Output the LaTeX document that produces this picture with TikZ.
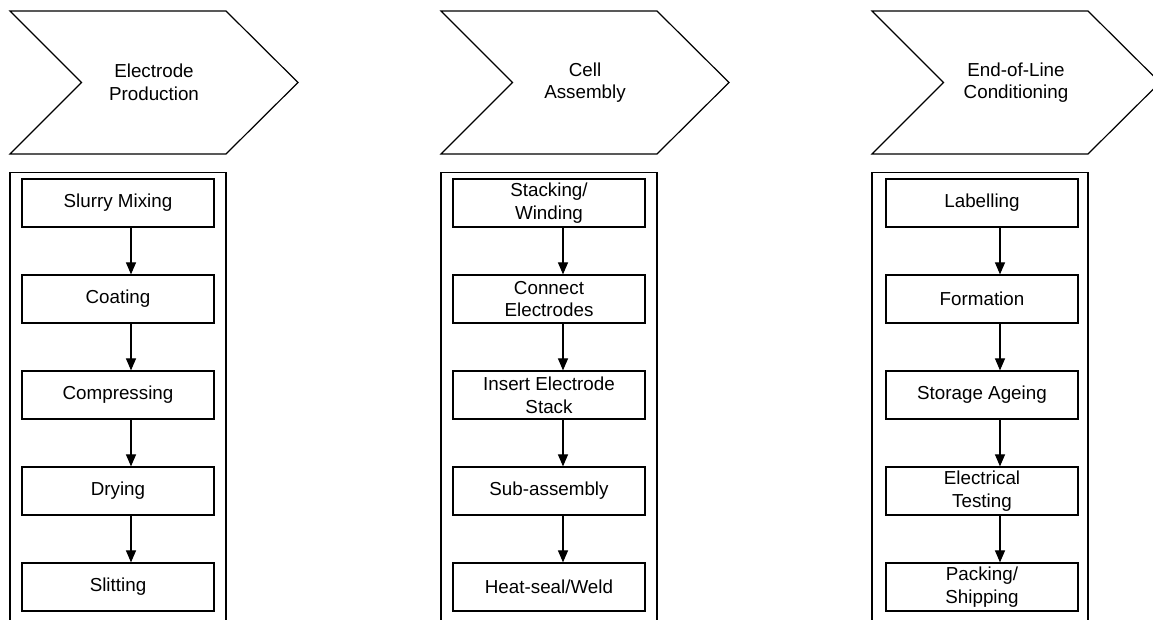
\documentclass[tikz,border=0pt]{standalone}
\usepackage{fontspec}
\setmainfont{Liberation Sans}
\usetikzlibrary{arrows.meta}

\begin{document}
\begin{tikzpicture}[x=0.5pt,y=-0.5pt,font=\fontsize{9.4}{11.3}\selectfont,line width=0.6pt]
        \tikzset{stepbox/.style = {shape=rectangle,draw,minimum width=96pt,minimum height=24pt,align=center,inner sep=1pt}};
        \tikzset{phase/.style = {align=center}};
        \tikzset{edge/.style = {->,> = {Triangle[length=6pt,width=5pt]}}};
        \clip (0,0) rectangle (1153,620);
        % chevrons and frames
        \foreach \x in {10,441,872} {
            \draw (\x,11) -- (\x+216,11) -- (\x+288,82.5) -- (\x+216,154) -- (\x,154) -- (\x+71.5,82.5) -- cycle;
            \draw (\x,172.5) rectangle (\x+216,640);
        }
        \node[phase] (ep) at (154,82.5) {Electrode\\Production};
        \node[phase] (ca) at (585,82.5) {Cell\\Assembly};
        \node[phase] (eol) at (1016,82.5) {End-of-Line\\Conditioning};
        % electrode production
        \node[stepbox] (sm) at (118,203) {Slurry Mixing};
        \node[stepbox] (co) at (118,299) {Coating};
        \node[stepbox] (cp) at (118,395) {Compressing};
        \node[stepbox] (dr) at (118,491) {Drying};
        \node[stepbox] (sl) at (118,587) {Slitting};
        % cell assembly
        \node[stepbox] (sw) at (549,203) {Stacking/\\Winding};
        \node[stepbox] (ce) at (549,299) {Connect\\Electrodes};
        \node[stepbox] (ie) at (549,395) {Insert Electrode\\Stack};
        \node[stepbox] (sa) at (549,491) {Sub-assembly};
        \node[stepbox] (hs) at (549,587) {Heat-seal/Weld};
        % end-of-line
        \node[stepbox] (lb) at (982,203) {Labelling};
        \node[stepbox] (fo) at (982,299) {Formation};
        \node[stepbox] (st) at (982,395) {Storage Ageing};
        \node[stepbox] (et) at (982,491) {Electrical\\Testing};
        \node[stepbox] (ps) at (982,587) {Packing/\\Shipping};
        \draw[edge] ([xshift=6.5pt]sm.south) to ([xshift=6.5pt]co.north);
        \draw[edge] ([xshift=6.5pt]co.south) to ([xshift=6.5pt]cp.north);
        \draw[edge] ([xshift=6.5pt]cp.south) to ([xshift=6.5pt]dr.north);
        \draw[edge] ([xshift=6.5pt]dr.south) to ([xshift=6.5pt]sl.north);
        \draw[edge] ([xshift=7pt]sw.south) to ([xshift=7pt]ce.north);
        \draw[edge] ([xshift=7pt]ce.south) to ([xshift=7pt]ie.north);
        \draw[edge] ([xshift=7pt]ie.south) to ([xshift=7pt]sa.north);
        \draw[edge] ([xshift=7pt]sa.south) to ([xshift=7pt]hs.north);
        \draw[edge] ([xshift=9pt]lb.south) to ([xshift=9pt]fo.north);
        \draw[edge] ([xshift=9pt]fo.south) to ([xshift=9pt]st.north);
        \draw[edge] ([xshift=9pt]st.south) to ([xshift=9pt]et.north);
        \draw[edge] ([xshift=9pt]et.south) to ([xshift=9pt]ps.north);
    \end{tikzpicture}
\end{document}
